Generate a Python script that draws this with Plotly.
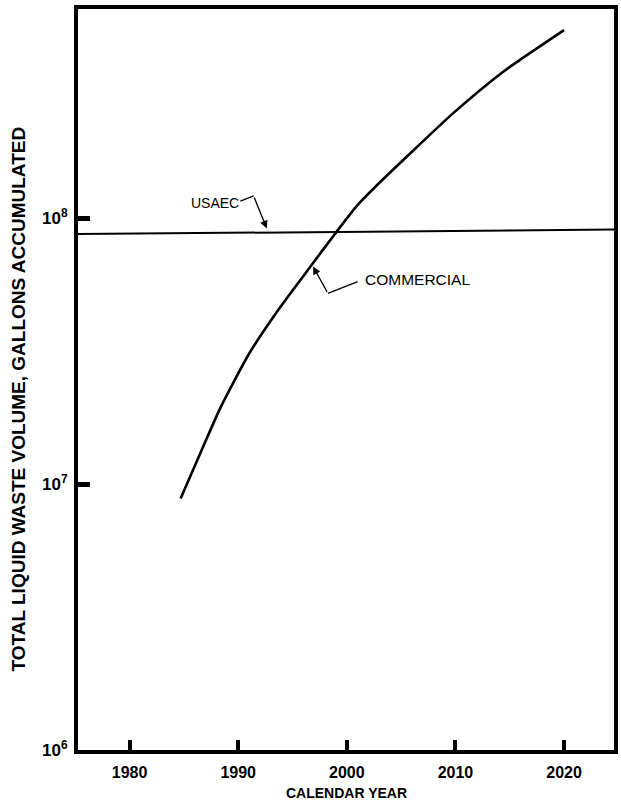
import plotly.graph_objects as go

# Commercial liquid waste accumulation (gallons) by calendar year
commercial_years = [1984.7, 1986.7, 1988.4, 1991.0, 1993.7, 1996.6, 1998.9,
                    2001.0, 2002.7, 2005.9, 2009.8, 2014.4, 2020.0]
commercial_gallons = [8.83e6, 1.36e7, 1.95e7, 3.09e7, 4.52e7, 6.53e7, 8.71e7,
                      1.12e8, 1.32e8, 1.76e8, 2.48e8, 3.55e8, 5.09e8]

# USAEC accumulated volume, nearly flat
usaec_years = [1975, 2025]
usaec_gallons = [8.7e7, 9.05e7]

x_ticks = [1980, 1990, 2000, 2010, 2020]
y_ticks = [1e6, 1e7, 1e8]
y_tick_text = ["10<sup>6</sup>", "10<sup>7</sup>", "10<sup>8</sup>"]

FONT = "Liberation Sans, Arial, sans-serif"
LEADER = dict(color="black", width=1.3)

fig = go.Figure()
fig.add_trace(go.Scatter(x=usaec_years, y=usaec_gallons, mode="lines",
                         line=dict(color="black", width=2), name="USAEC",
                         showlegend=False))
fig.add_trace(go.Scatter(x=commercial_years, y=commercial_gallons, mode="lines",
                         line=dict(color="black", width=2.6, shape="spline", smoothing=0.6),
                         name="COMMERCIAL", showlegend=False))

# "USAEC" label with a kinked leader arrow
fig.add_annotation(x=1985.45, y=8.056, xref="x", yref="y", text="USAEC",
                   showarrow=False, xanchor="left", yanchor="middle",
                   font=dict(family=FONT, size=14, color="black"))
fig.add_shape(type="line", xref="x", yref="y", x0=1990.2, y0=10 ** 8.064,
              x1=1991.42, y1=10 ** 8.083, line=LEADER)
fig.add_annotation(x=1992.63, y=7.961, xref="x", yref="y", ax=1991.42, ay=8.083,
                   axref="x", ayref="y", text="", showarrow=True,
                   arrowhead=2, arrowsize=1.2, arrowwidth=1.3, arrowcolor="black")

# "COMMERCIAL" label with a kinked leader arrow
fig.add_annotation(x=2001.46, y=7.770, xref="x", yref="y", text="COMMERCIAL",
                   showarrow=False, xanchor="left", yanchor="middle",
                   font=dict(family=FONT, size=15.5, color="black"))
fig.add_shape(type="line", xref="x", yref="y", x0=2001.0, y0=10 ** 7.761,
              x1=1998.26, y1=10 ** 7.717, line=LEADER)
fig.add_annotation(x=1996.89, y=7.818, xref="x", yref="y", ax=1998.26, ay=7.717,
                   axref="x", ayref="y", text="", showarrow=True,
                   arrowhead=2, arrowsize=1.2, arrowwidth=1.3, arrowcolor="black")

# Axis titles
fig.add_annotation(x=0, y=0.5, xref="paper", yref="paper", xshift=-60, yshift=-20,
                   text="TOTAL LIQUID WASTE VOLUME, GALLONS ACCUMULATED",
                   textangle=-90, showarrow=False, xanchor="center", yanchor="middle",
                   font=dict(family=FONT, size=19, color="black", weight="bold"))
fig.add_annotation(x=0.5, y=0, xref="paper", yref="paper", yshift=-43,
                   text="CALENDAR YEAR", showarrow=False, yanchor="middle",
                   font=dict(family=FONT, size=14, color="black", weight="bold"))

fig.update_xaxes(range=[1975.25, 2024.6], tickvals=x_ticks, ticks="inside",
                 ticklen=10, tickwidth=4, tickcolor="black",
                 showline=True, linewidth=4, linecolor="black", mirror=True,
                 showgrid=False, zeroline=False, ticklabelstandoff=5,
                 tickfont=dict(family=FONT, size=16, color="black", weight="bold"))
fig.update_yaxes(type="log", range=[6, 8.786], tickvals=y_ticks, ticktext=y_tick_text,
                 ticks="inside", ticklen=12, tickwidth=4.5, tickcolor="black",
                 showline=True, linewidth=4, linecolor="black", mirror=True,
                 showgrid=False, zeroline=False, ticklabelstandoff=3,
                 tickfont=dict(family=FONT, size=17, color="black", weight="bold"))

fig.update_layout(width=621, height=803, margin=dict(l=78, r=3, t=9, b=53),
                  plot_bgcolor="white", paper_bgcolor="white")

fig.write_html("out.html")
